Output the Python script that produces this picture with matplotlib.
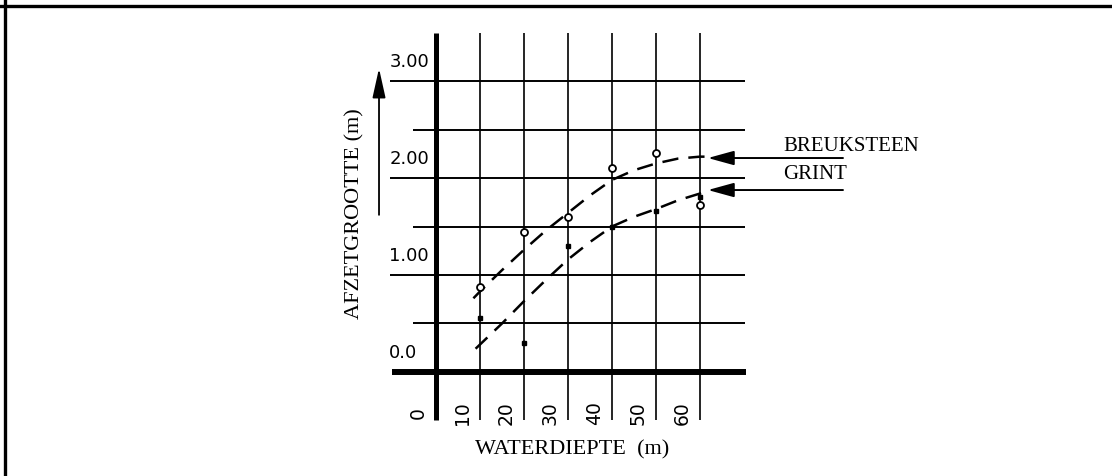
import matplotlib
matplotlib.use("Agg")
import matplotlib.pyplot as plt
from matplotlib.lines import Line2D

# gemeten afzetgrootte per waterdiepte
diepte = [10, 20, 30, 40, 50, 60]
breuksteen_punten = [0.88, 1.44, 1.60, 2.10, 2.26, 1.72]
grint_punten = [0.56, 0.30, 1.30, 1.50, 1.66, 1.80]

breuksteen_lijn_x = [8.5, 10, 15, 20, 25, 30, 35, 40, 45, 50, 55, 60, 61.5]
breuksteen_lijn_y = [0.76, 0.83, 1.05, 1.26, 1.46, 1.64, 1.82, 1.98, 2.08, 2.15, 2.20, 2.22, 2.22]
grint_lijn_x = [9, 15, 20, 25, 30, 35, 40, 45, 50, 55, 60, 61.5]
grint_lijn_y = [0.24, 0.50, 0.73, 0.95, 1.16, 1.34, 1.50, 1.60, 1.68, 1.77, 1.84, 1.86]

x_ticks = [0, 10, 20, 30, 40, 50, 60]
y_hoofd = [1.0, 2.0, 3.0]
y_half = [0.5, 1.5, 2.5]
y_labels = ["0.0", "1.00", "2.00", "3.00"]

fig = plt.figure(figsize=(11.12, 4.76), dpi=100)
ax = fig.add_axes([0, 0, 1, 1])
ax.set_xlim(-99.09, 153.64)
ax.set_ylim(-1.0722, 3.8351)
ax.axis("off")

# kader (alleen boven en links)
fig.add_artist(Line2D([0, 1], [1 - 6 / 476, 1 - 6 / 476], color="black", lw=2.4, transform=fig.transFigure))
fig.add_artist(Line2D([5 / 1112, 5 / 1112], [0, 1], color="black", lw=2.4, transform=fig.transFigure))

# raster
for x in x_ticks[1:]:
    ax.plot([x, x], [-0.495, 3.5], color="black", lw=1.2, solid_capstyle="butt")
for y in y_hoofd:
    ax.plot([-10.5, 70.2], [y, y], color="black", lw=1.4, solid_capstyle="butt")
for y in y_half:
    ax.plot([-5.2, 70.2], [y, y], color="black", lw=1.4, solid_capstyle="butt")

# assen
ax.plot([0, 0], [-0.495, 3.49], color="black", lw=3.6, solid_capstyle="butt")
ax.plot([-10, 70.5], [0, 0], color="black", lw=4.3, solid_capstyle="butt")

# aslabels
for v, lab in zip([0, 1, 2, 3], y_labels):
    ax.text(-10.6, v + 0.2, lab, ha="left", va="center", fontsize=13, family="DejaVu Sans")
for v in x_ticks:
    ax.text(v - 4, -0.42, str(v), ha="center", va="center", rotation=90, fontsize=13.5, family="DejaVu Sans")

ax.text(-18.4, 1.63, "AFZETGROOTTE (m)", rotation=90, ha="center", va="center",
        fontsize=16, family="Liberation Serif")
ax.text(30.9, -0.80, "WATERDIEPTE  (m)", ha="center", va="center", fontsize=16, family="Liberation Serif")

ax.annotate("", xy=(-12.95, 3.13), xytext=(-12.95, 1.62),
            arrowprops=dict(arrowstyle="-|>,head_length=0.9,head_width=0.2", mutation_scale=20,
                            color="black", lw=1.3, shrinkA=0, shrinkB=0))

# lijnen en meetpunten
ax.plot(breuksteen_lijn_x, breuksteen_lijn_y, color="black", lw=1.8, dashes=(6.5, 4))
ax.plot(grint_lijn_x, grint_lijn_y, color="black", lw=1.8, dashes=(6.5, 4))
ax.plot(diepte, breuksteen_punten, "o", ms=5, mfc="white", mec="black", mew=1.3)
ax.plot(diepte, grint_punten, "s", ms=3.5, color="black")

# legenda met pijlen
ax.text(78.9, 2.32, "BREUKSTEEN", ha="left", va="center", fontsize=15, family="Liberation Serif")
ax.text(78.9, 2.04, "GRINT", ha="left", va="center", fontsize=15, family="Liberation Serif")
for y in [2.206, 1.876]:
    ax.annotate("", xy=(61.8, y), xytext=(92.5, y),
                arrowprops=dict(arrowstyle="-|>,head_length=0.8,head_width=0.22", mutation_scale=20,
                                color="black", lw=1.4, shrinkA=0, shrinkB=0))

plt.savefig("out.png", dpi=100)
